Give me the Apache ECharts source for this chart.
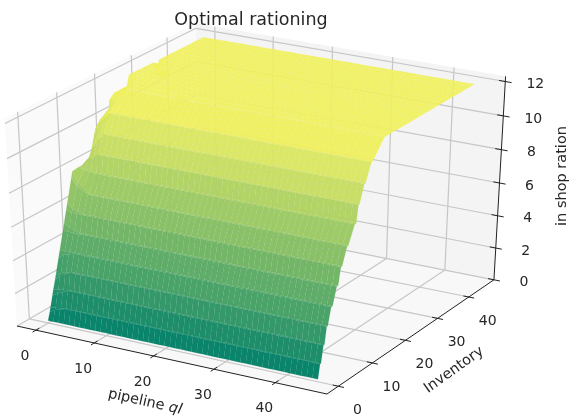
<!DOCTYPE html>
<html><head><meta charset="utf-8">
<style>html,body{margin:0;padding:0;background:#fff}#c{width:570px;height:417px}</style>
<script src="https://cdn.jsdelivr.net/npm/echarts@6/dist/echarts.min.js"></script></head>
<body><div id="c"></div>
<script>
const pipelineGrid=[0,0.9,1.8,2.7,3.6,4.5,5.4,6.3,7.2,8.1,9,9.9,10.8,11.7,12.6,13.5,14.4,15.3,16.2,17.1,18,18.9,19.8,20.7,21.6,22.5,23.4,24.3,25.2,26.1,27,27.9,28.8,29.7,30.6,31.5,32.4,33.3,34.2,35.1,36,36.9,37.8,38.7,39.6,40.5,41.4,42.3,43.2,44.1,45];
const inventoryGrid=[0,0.55,0.8,1.45,1.75,2.3,2.6,3.5,3.9,5,5.4,6.1,6.45,7.8,8.15,9.85,10.25,10.8,11.1,12.35,12.7,14.25,14.6,17.9,18.2,18.5,20,21.5,23,24,25.5,27,28.5,30,30.6,31.6,32.3,33.5,35,36.5,38,39.5,41,42.5,44,45];
const rationMain=[0.15,1,1,2,2,3,3,4,4,5,5,6,6,7,7,8,8,9,9,10,10,11,11,12,12,12,12,12,12,12,12,12,12,12,12,12,12,12,12,12,12,12,12,12,12,12];
const rationPipeline0=[0.15,0.6,0.85,1.5,1.8,2.3,2.6,3.5,3.9,5,5.4,6.1,6.45,7.8,8.15,8.2,8.2,8.2,8.2,8.2,8.2,9.6,9.9,10,10,11.1,11.1,11.1,11.1,12,12,12,12,12,12,11.4,12,12,12,12,12,12,12,12,12,12];
const rationPipeline1=[0.15,0.8,0.9,1.7,1.9,2.7,2.8,3.8,4,5,5.2,6,6.2,7.4,7.6,8.1,8.1,8.6,8.6,9.1,9.1,10.3,10.5,11,11,11.6,11.6,11.6,11.6,12,12,12,12,12,12,11.8,12,12,12,12,12,12,12,12,12,12];
const rationPipeline2=[0.15,0.9,0.95,1.85,1.95,2.8,2.9,3.9,4,5,5.1,6,6.1,7.2,7.3,8.05,8.05,8.8,8.8,9.6,9.6,10.6,10.7,11.5,11.5,11.8,11.8,11.8,11.8,12,12,12,12,11.75,12,12,12,12,12,12,12,12,12,12,12,12];
const creaseX=[3,5,6,7,8,10,11,13,14];
const creaseRow=[32,31,30,29,28,27,26,25,24];
const creaseZ=[11.55,11.6,11.65,11.7,11.75,11.8,11.85,11.9,11.95];
const pipelineTicks=[0,10,20,30,40];
const inventoryTicks=[0,10,20,30,40];
const rationTicks=[0,2,4,6,8,10,12];

const LIM={x:[-3.28,48.28],y:[-3.28,48.28],z:[0,12.3]};
const FONT='"DejaVu Sans"';
const eN=[0.433,-0.75,0.5],eU=[0.866,0.5,0],eV=[-0.25,0.433,0.866];
const SX=3578,SY=2411,ZS=0.985;
const AX=17,AY=326;
function norm(x,y,z){return [(x-LIM.x[0])/(LIM.x[1]-LIM.x[0])-.5,(y-LIM.y[0])/(LIM.y[1]-LIM.y[0])-.5,(z-LIM.z[0])/(LIM.z[1]-LIM.z[0])*ZS-.5];}
function raw(p){const d=10-(p[0]*eN[0]+p[1]*eN[1]+p[2]*eN[2]);
  return [(p[0]*eU[0]+p[1]*eU[1])/d,(p[0]*eV[0]+p[1]*eV[1]+p[2]*eV[2])/d];}
const R0=raw([-.5,-.5,-.5]);
function proj(x,y,z){const r=raw(norm(x,y,z));return [AX+(r[0]-R0[0])*SX,AY-(r[1]-R0[1])*SY];}
function depth(x,y,z){const p=norm(x,y,z);return 10-(p[0]*eN[0]+p[1]*eN[1]+p[2]*eN[2]);}
const creaseMap={};
creaseX.forEach((x,k)=>{creaseMap[x+'_'+creaseRow[k]]=creaseZ[k];});
function zAt(i,j){
  if(i===0)return rationPipeline0[j];
  if(i===1)return rationPipeline1[j];
  if(i===2)return rationPipeline2[j];
  const c=creaseMap[i+'_'+j];
  return c!==undefined?c:rationMain[j];
}
function summer(z,a){const t=Math.max(0,Math.min(1,(z-0.5)/11.1)),s=1-0.055*t;
  return 'rgba('+Math.round(255*t*s)+','+Math.round((127.5+127.5*t)*s)+','+Math.round(102*s)+','+a+')';}
const cells=[];
for(let j=0;j<inventoryGrid.length-1;j++)for(let i=0;i<pipelineGrid.length-1;i++){
  const z=(zAt(i,j)+zAt(i+1,j)+zAt(i,j+1)+zAt(i+1,j+1))/4;
  cells.push([i,j,z,depth((pipelineGrid[i]+pipelineGrid[i+1])/2,(inventoryGrid[j]+inventoryGrid[j+1])/2,z)]);
}
cells.sort((a,b)=>b[3]-a[3]);
const x0=LIM.x[0],x1=LIM.x[1],y0=LIM.y[0],y1=LIM.y[1],z0=LIM.z[0],z1=LIM.z[1];
const panes=[
 {c:[[x0,y0,z0],[x0,y1,z0],[x0,y1,z1],[x0,y0,z1]],f:'#fafafa'},
 {c:[[x0,y1,z0],[x1,y1,z0],[x1,y1,z1],[x0,y1,z1]],f:'#f4f4f4'},
 {c:[[x0,y0,z0],[x1,y0,z0],[x1,y1,z0],[x0,y1,z0]],f:'#f8f8f8'}];
const lines=[];
const grid='#c6c6c6',dark='#222222';
pipelineTicks.forEach(t=>{lines.push([[t,y0,z0],[t,y1,z0],grid,1.2]);lines.push([[t,y1,z0],[t,y1,z1],grid,1.2]);});
inventoryTicks.forEach(t=>{lines.push([[x1,t,z0],[x0,t,z0],grid,1.2]);lines.push([[x0,t,z0],[x0,t,z1],grid,1.2]);});
rationTicks.forEach(t=>{lines.push([[x1,y1,t],[x0,y1,t],grid,1.2]);lines.push([[x0,y1,t],[x0,y0,t],grid,1.2]);});
const axisLines=[[[x0,y0,z0],[x1,y0,z0],dark,1],[[x1,y0,z0],[x1,y1,z0],dark,1],[[x1,y1,z0],[x1,y1,z1],dark,1]];
pipelineTicks.forEach(t=>axisLines.push([[t,y0+0.9,z0],[t,y0-0.9,z0],dark,1]));
inventoryTicks.forEach(t=>axisLines.push([[x1-0.9,t,z0],[x1+0.9,t,z0],dark,1]));
rationTicks.forEach(t=>axisLines.push([[x1-1,y1,t],[x1+1,y1,t],dark,1]));
function line(l){const a=proj(...l[0]),b=proj(...l[1]);return {type:'line',shape:{x1:a[0],y1:a[1],x2:b[0],y2:b[1]},style:{stroke:l[2],lineWidth:l[3]}};}
function txt(text,x,y,size,rot,extra){return {type:'text',x:x,y:y,rotation:rot||0,style:Object.assign({text:text,fill:'#262626',fontFamily:FONT,fontSize:size,align:'center',verticalAlign:'middle'},extra||{})};}
const labels=[];
pipelineTicks.forEach(t=>{const p=proj(t,y0,z0);labels.push(txt(String(t),p[0]-11,p[1]+26,14));});
inventoryTicks.forEach(t=>{const p=proj(x1,t,z0);labels.push(txt(String(t),p[0]+19,p[1]+24,14));});
rationTicks.forEach(t=>{const p=proj(x1,y1,t);labels.push(txt(String(t),p[0]+30,p[1]+3,14));});
labels.push(txt('pipeline {i|ql}',145,402,14.5,-0.22,{rich:{i:{fontStyle:'italic',fontFamily:FONT,fontSize:14.5,fill:'#262626'}}}));
labels.push(txt('Inventory',454,370,14.5,0.62));
labels.push(txt('in shop ration',562,176,14.5,Math.PI/2));
const chart=echarts.init(document.getElementById('c'),null,{renderer:'canvas'});
chart.setOption({animation:false,backgroundColor:'#fff',
 title:{text:'Optimal rationing',left:246,top:6,textAlign:'center',textStyle:{fontFamily:FONT,fontSize:17.5,fontWeight:'normal',color:'#262626'}},
 series:[
 {type:'custom',coordinateSystem:'none',silent:true,z:1,data:[0],renderItem(){return {type:'group',children:
   panes.map(p=>({type:'polygon',shape:{points:p.c.map(c=>proj(...c))},style:{fill:p.f}})).concat(lines.map(line))};}},
 {type:'custom',coordinateSystem:'none',silent:true,z:2,progressive:0,data:cells,renderItem(params,api){
   const i=api.value(0),j=api.value(1),z=api.value(2);
   const pts=[[i,j],[i+1,j],[i+1,j+1],[i,j+1]].map(q=>proj(pipelineGrid[q[0]],inventoryGrid[q[1]],zAt(q[0],q[1])));
   return {type:'polygon',shape:{points:pts},style:{fill:summer(z,0.97),stroke:summer(z,0.5),lineWidth:0.25}};}},
 {type:'custom',coordinateSystem:'none',silent:true,z:3,data:[0],renderItem(){return {type:'group',children:axisLines.map(line).concat(labels)};}}
 ]});
</script></body></html>
